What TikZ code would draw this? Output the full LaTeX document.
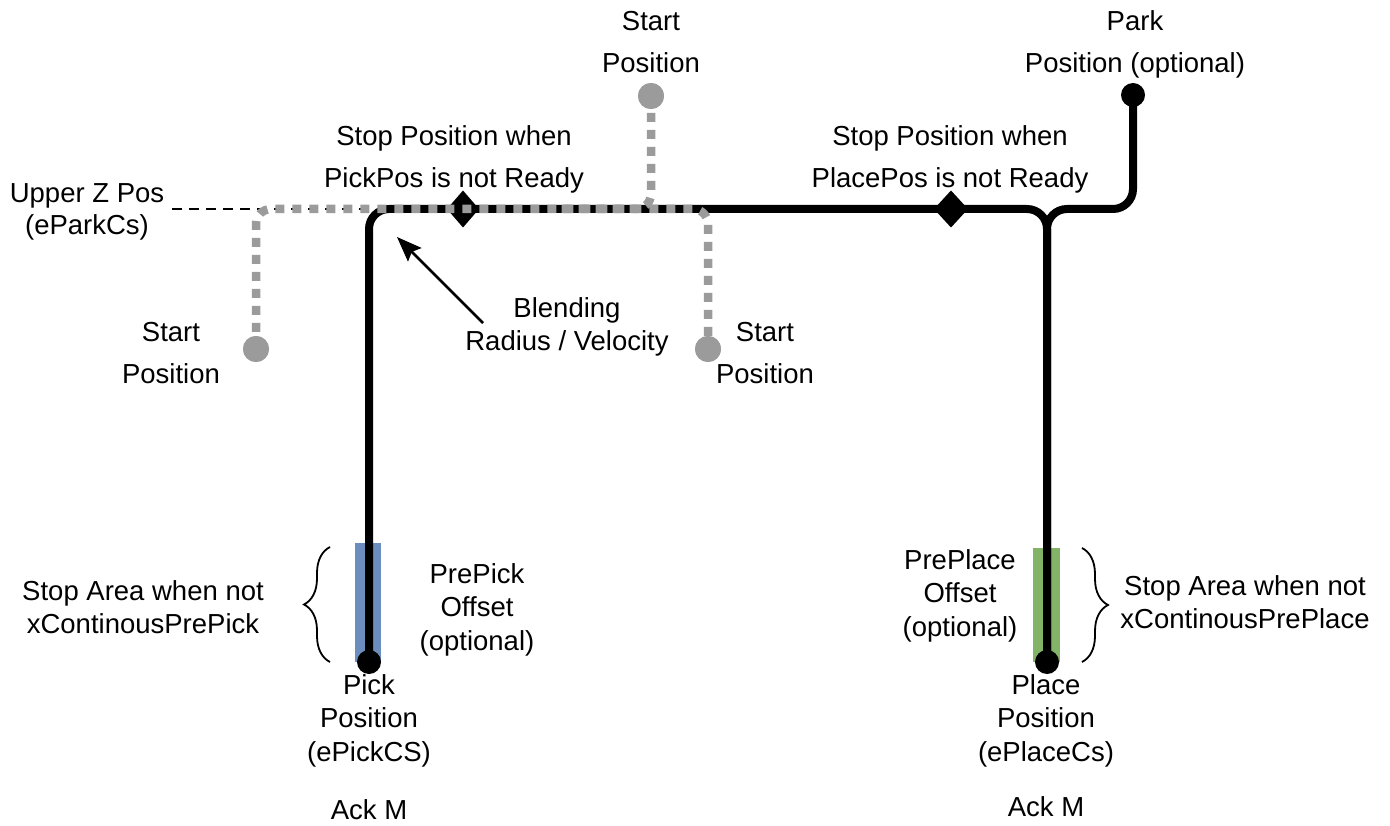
\documentclass[tikz,border=0pt]{standalone}
\usepackage{fontspec}
\setmainfont{Liberation Sans}
\usetikzlibrary{arrows.meta,decorations.pathreplacing,shapes.geometric}
\definecolor{gdot}{RGB}{155,155,155}
\definecolor{pblue}{RGB}{108,142,191}
\definecolor{pgreen}{RGB}{130,179,102}
\begin{document}
\begin{tikzpicture}[x=1pt,y=-1pt,
  lblA/.style={font=\fontsize{27.5}{42}\selectfont, align=center, inner sep=0pt},
  lblB/.style={font=\fontsize{27.5}{33.5}\selectfont, align=center, inner sep=0pt},
  mainline/.style={line width=8pt, rounded corners=20pt},
  grayline/.style={gdot, line width=8.5pt, dash pattern=on 9pt off 8pt, rounded corners=15pt},
  gdotn/.style={circle, fill=gdot, minimum size=26pt, inner sep=0pt},
  bdotn/.style={circle, fill=black, minimum size=24pt, inner sep=0pt},
  bracestyle/.style={decorate, decoration={brace, amplitude=26pt}, line width=1.8pt},
]
\useasboundingbox (0,0) rectangle (1390,826);

% offset areas
\fill[pblue] (355,543) rectangle (381,662);
\fill[pgreen] (1033,548) rectangle (1060,662);

% coordinates
\coordinate (pickc) at (369,662);
\coordinate (placec) at (1047,662);
\coordinate (parkc) at (1133,95);
\coordinate (upz) at (172,209);
\coordinate (upzend) at (372,209);
\coordinate (stop1) at (463,209);
\coordinate (stop2) at (951,209);

% thin dashed upper z line
\draw[line width=2pt, dash pattern=on 10pt off 7pt] (upz) -- (upzend);

% main black path
\draw[mainline] (pickc) -- (369,209) -- (1047,209) -- (placec);
\draw[mainline] (placec) -- (1047,209) -- (1133,209) -- (parkc);

% stop markers
\fill (stop1) +(-16,0) -- +(0,-18.5) -- +(16,0) -- +(0,18.5) -- cycle;
\fill (stop2) +(-17,0) -- +(0,-18.5) -- +(17,0) -- +(0,18.5) -- cycle;

% gray start dots
\node[gdotn] (gsl) at (256,349) {};
\node[gdotn] (gsr) at (708,349) {};
\node[gdotn] (gst) at (651,96) {};

% gray dotted paths
\draw[grayline] (gsl.center) -- (256,209) -- (708,209) -- (gsr.center);
\draw[grayline] (gst.center) -- (651,209) -- (560,209);
\node[gdotn] at (gsl) {};
\node[gdotn] at (gsr) {};
\node[gdotn] at (gst) {};

% black dots
\node[bdotn] (pickdot) at (pickc) {};
\node[bdotn] (placedot) at (placec) {};
\node[bdotn] (parkdot) at (parkc) {};

% blending arrow
\coordinate (blendtip) at (397,237);
\coordinate (blendtail) at (483,323);
\draw[line width=2.5pt, -{Stealth[length=25pt, width=19pt, inset=4pt]}] (blendtail) -- (blendtip);

% braces
\draw[bracestyle] (330,662) -- (330,547);
\draw[bracestyle] (1082,548) -- (1082,662);

% labels
\node[lblA] (tstart) at (651,42) {Start\\Position};
\node[lblA] (tpark) at (1135,44.5) {Park\\Position (optional)};
\node[lblA] (tstop1) at (454,159) {Stop Position when\\PickPos is not Ready};
\node[lblA] (tstop2) at (950,159) {Stop Position when\\PlacePos is not Ready};
\node[lblB, font=\fontsize{27.5}{32}\selectfont] (tupz) at (87,212) {Upper Z Pos\\(eParkCs)};
\node[lblA] (tlstart) at (171,353.5) {Start\\Position};
\node[lblA] (trstart) at (765,353.5) {Start\\Position};
\node[lblB] (tblend) at (567,327) {Blending\\Radius / Velocity};
\node[lblB] (tsal) at (143,607) {Stop Area when not\\xContinousPrePick};
\node[lblB] (tprepick) at (477,609.5) {PrePick\\Offset\\(optional)};
\node[lblB] (tpick) at (369,720.5) {Pick\\Position\\(ePickCS)};
\node[lblB] (tackl) at (369,810) {Ack M};
\node[lblB] (tpreplace) at (960,595.5) {PrePlace\\Offset\\(optional)};
\node[lblB] (tsar) at (1245,602) {Stop Area when not\\xContinousPrePlace};
\node[lblB] (tplace) at (1046,720.5) {Place\\Position\\(ePlaceCs)};
\node[lblB] (tackr) at (1046,807) {Ack M};
\end{tikzpicture}
\end{document}
